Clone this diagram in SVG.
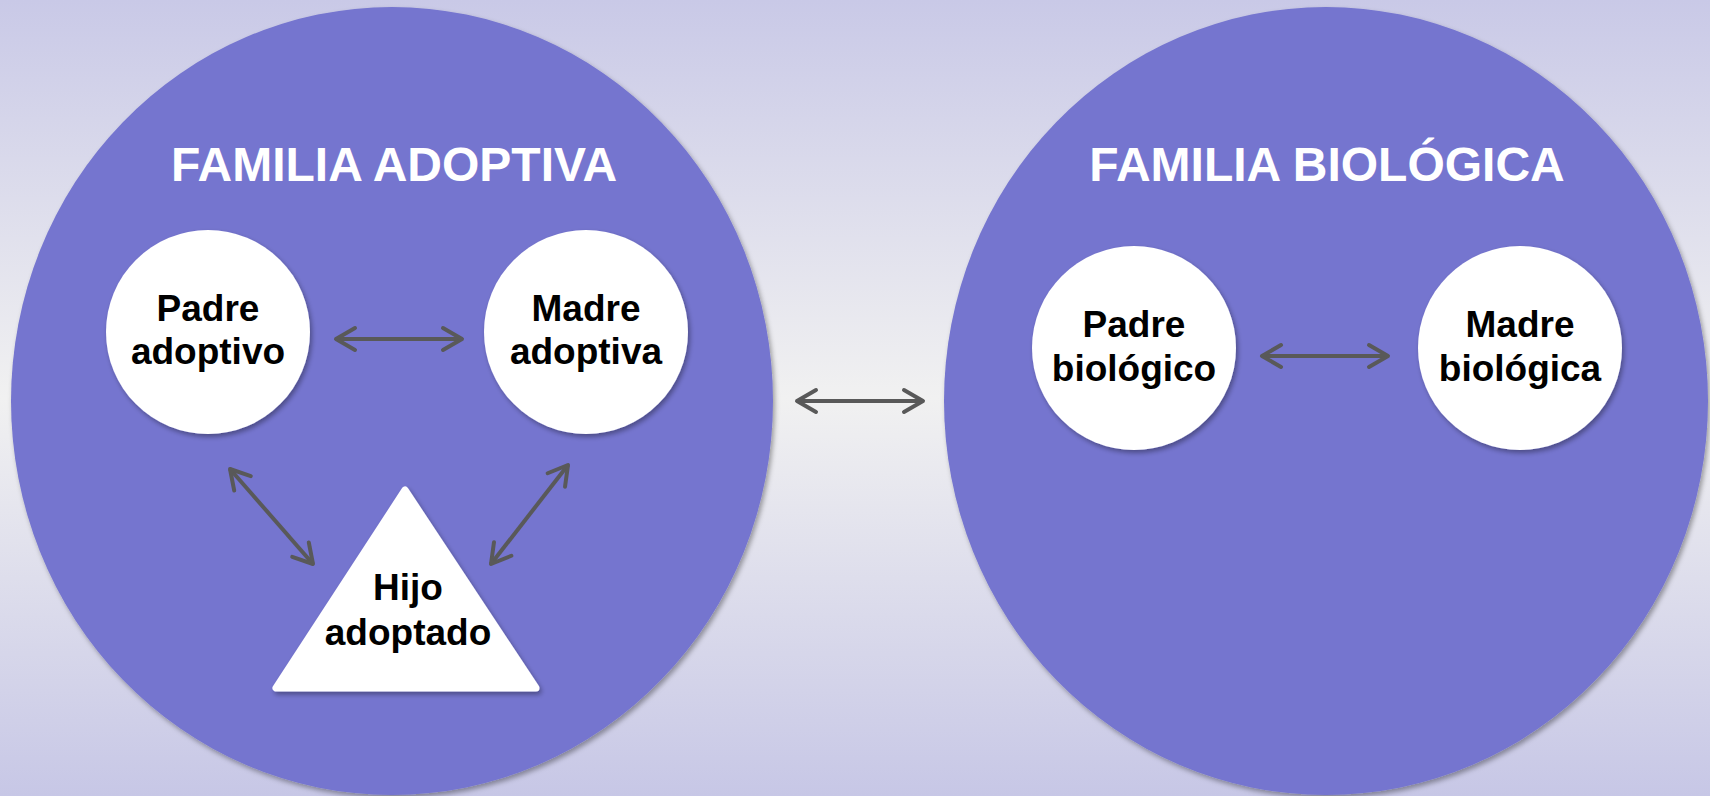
<svg xmlns="http://www.w3.org/2000/svg" width="1710" height="796" viewBox="0 0 1710 796">
<defs>
<linearGradient id="bg" x1="0" y1="0" x2="0" y2="1">
<stop offset="0" stop-color="#c9c9e7"/>
<stop offset="0.5" stop-color="#f1f1f1"/>
<stop offset="1" stop-color="#c7c7e6"/>
</linearGradient>
<filter id="sh" x="-10%" y="-10%" width="120%" height="120%">
<feDropShadow dx="2" dy="3" stdDeviation="2.5" flood-color="#000" flood-opacity="0.35"/>
</filter>
<marker id="ah" markerUnits="userSpaceOnUse" viewBox="-26 -15 30 30" refX="0" refY="0" markerWidth="30" markerHeight="30" orient="auto-start-reverse" overflow="visible">
<path d="M-19,-11 L0,0 L-19,11" fill="none" stroke="#595959" stroke-width="4" stroke-linecap="round" stroke-linejoin="round"/>
</marker>
<style>
.fam{fill:#7575cf;filter:url(#sh)}
.node{fill:#ffffff;filter:url(#sh)}
.title{font-family:"Liberation Sans",Arial,sans-serif;font-weight:bold;font-size:48px;fill:#ffffff;text-anchor:middle}
.lbl{font-family:"Liberation Sans",Arial,sans-serif;font-weight:bold;font-size:37px;fill:#000000;text-anchor:middle}
.conn line{stroke:#595959;stroke-width:4;marker-start:url(#ah);marker-end:url(#ah)}
</style>
</defs>
<rect x="0" y="0" width="1710" height="796" fill="url(#bg)"/>
<g id="familia-adoptiva">
<ellipse class="fam" cx="392" cy="401" rx="381" ry="394"/>
<text class="title" x="394" y="181">FAMILIA ADOPTIVA</text>
</g>
<g id="familia-biologica">
<ellipse class="fam" cx="1326" cy="401" rx="382" ry="394"/>
<text class="title" x="1327" y="181">FAMILIA BIOLÓGICA</text>
</g>
<g id="padre-adoptivo">
<circle class="node" cx="208" cy="332" r="102"/>
<text class="lbl" x="208" y="321">Padre</text>
<text class="lbl" x="208" y="364">adoptivo</text>
</g>
<g id="madre-adoptiva">
<circle class="node" cx="586" cy="332" r="102"/>
<text class="lbl" x="586" y="321">Madre</text>
<text class="lbl" x="586" y="364">adoptiva</text>
</g>
<g id="hijo-adoptado">
<polygon class="node" points="405,490 276,688 536,688" stroke="#ffffff" stroke-width="7" stroke-linejoin="round"/>
<text class="lbl" x="408" y="600">Hijo</text>
<text class="lbl" x="408" y="645">adoptado</text>
</g>
<g id="padre-biologico">
<circle class="node" cx="1134" cy="348" r="102"/>
<text class="lbl" x="1134" y="337">Padre</text>
<text class="lbl" x="1134" y="381">biológico</text>
</g>
<g id="madre-biologica">
<circle class="node" cx="1520" cy="348" r="102"/>
<text class="lbl" x="1520" y="337">Madre</text>
<text class="lbl" x="1520" y="381">biológica</text>
</g>
<g id="connectors" class="conn">
<line x1="336" y1="339" x2="462" y2="339"/>
<line x1="797" y1="401" x2="923" y2="401"/>
<line x1="1262" y1="356" x2="1388" y2="356"/>
<line x1="230" y1="469" x2="313" y2="564"/>
<line x1="568" y1="465" x2="491" y2="564"/>
</g>
</svg>
